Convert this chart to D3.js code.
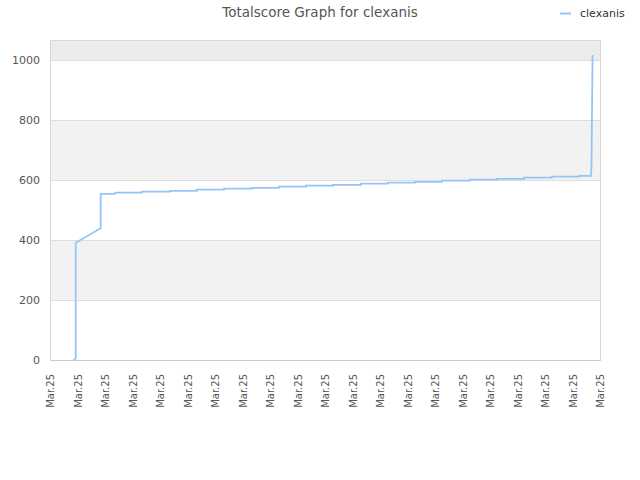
<!DOCTYPE html>
<html>
<head>
<meta charset="utf-8">
<script src="https://cdn.jsdelivr.net/npm/d3@7"></script>
<style>
  html, body { margin: 0; padding: 0; background: #fff; }
  svg { display: block; font-family: "DejaVu Sans", sans-serif; }
</style>
</head>
<body>
<svg id="chart" width="640" height="480"></svg>
<script>
// ---- data ----
const title = "Totalscore Graph for clexanis";
const seriesName = "clexanis";
const xTickLabels = ["Mar.25","Mar.25","Mar.25","Mar.25","Mar.25","Mar.25","Mar.25",
  "Mar.25","Mar.25","Mar.25","Mar.25","Mar.25","Mar.25","Mar.25","Mar.25","Mar.25",
  "Mar.25","Mar.25","Mar.25","Mar.25","Mar.25"];
const yTicks = [0, 200, 400, 600, 800, 1000];
// time in tick-interval units, score values
const times  = [0.847, 0.935, 0.935, 1.844, 1.844, 2.364, 2.364, 3.335, 3.335, 4.364, 4.364,
  5.335, 5.335, 6.327, 6.327, 7.335, 7.335, 8.327, 8.327, 9.309, 9.309, 10.29, 10.29,
  11.31, 11.31, 12.29, 12.29, 13.27, 13.27, 14.25, 14.25, 15.27, 15.27, 16.25, 16.25,
  17.24, 17.24, 18.25, 18.25, 19.24, 19.24, 19.67, 19.69, 19.73];
const scores = [0, 5, 391, 439, 554, 554, 558, 558, 561, 561, 564,
  564, 568, 568, 571, 571, 574, 574, 578, 578, 581, 581, 584,
  584, 588, 588, 591, 591, 594, 594, 598, 598, 601, 601, 604,
  604, 608, 608, 611, 611, 614, 614, 644, 1017];

// ---- layout ----
(function () {
const svg = d3.select("#chart");
const mL = 50, mR = 600, mT = 40, mB = 360;
const x = d3.scaleLinear().domain([0, xTickLabels.length - 1]).range([mL, mR]);
const y = d3.scaleLinear().domain([0, 1066.7]).range([mB, mT]);

// bands
const bands = [
  {from: 200, to: 400, fill: "#f2f2f2"},
  {from: 600, to: 800, fill: "#f2f2f2"},
  {from: 1000, to: 1066.7, fill: "#ececec"}
];
svg.append("g").selectAll("rect").data(bands).join("rect")
  .attr("x", mL).attr("width", mR - mL)
  .attr("y", d => y(d.to)).attr("height", d => y(d.from) - y(d.to))
  .attr("fill", d => d.fill);

// grid lines
svg.append("g").selectAll("line").data(yTicks).join("line")
  .attr("x1", mL).attr("x2", mR)
  .attr("y1", d => Math.round(y(d)) + 0.5).attr("y2", d => Math.round(y(d)) + 0.5)
  .attr("stroke", "#dddddd").attr("stroke-width", 1);

// frame
svg.append("rect").attr("x", mL + 0.5).attr("y", mT + 0.5)
  .attr("width", mR - mL).attr("height", mB - mT)
  .attr("fill", "none").attr("stroke", "#d8d8d8").attr("stroke-width", 1);

// y axis labels
const yAxis = d3.axisLeft(y).tickValues(yTicks).tickFormat(d3.format("d"))
  .tickSize(0).tickPadding(10);
const gy = svg.append("g").attr("transform", `translate(${mL},0)`).call(yAxis);
gy.select(".domain").remove();
gy.selectAll("text").attr("fill", "#555").style("font-size", "11px")
  .style("font-family", "'DejaVu Sans', sans-serif");

// x axis
const xAxis = d3.axisBottom(x).tickValues(d3.range(xTickLabels.length))
  .tickFormat(i => xTickLabels[i]).tickSize(0);
const gx = svg.append("g").attr("transform", `translate(0,${mB})`).call(xAxis);
gx.select(".domain").attr("stroke", "#cccccc");
gx.selectAll("text")
  .attr("fill", "#555").style("font-size", "10px")
  .style("font-family", "'DejaVu Sans', sans-serif")
  .attr("text-anchor", "end")
  .attr("dy", "0.35em")
  .attr("transform", "translate(0,14) rotate(-90)")
  .attr("x", 0).attr("y", 0);

// line
const pts = times.map((t, i) => [t, scores[i]]);
const line = d3.line().x(d => x(d[0])).y(d => y(d[1]));
svg.append("path").datum(pts).attr("d", line)
  .attr("fill", "none").attr("stroke", "#95c5f5").attr("stroke-width", 1.8)
  .attr("stroke-linejoin", "miter");

// title
svg.append("text").attr("x", 320).attr("y", 17).attr("text-anchor", "middle")
  .attr("fill", "#555").style("font-size", "13.5px").text(title);

// legend
svg.append("line").attr("x1", 560).attr("x2", 571).attr("y1", 13.5).attr("y2", 13.5)
  .attr("stroke", "#95c5f5").attr("stroke-width", 2);
svg.append("text").attr("x", 580).attr("y", 17).attr("fill", "#333")
  .style("font-size", "11px").text(seriesName);
})();
</script>
</body>
</html>
